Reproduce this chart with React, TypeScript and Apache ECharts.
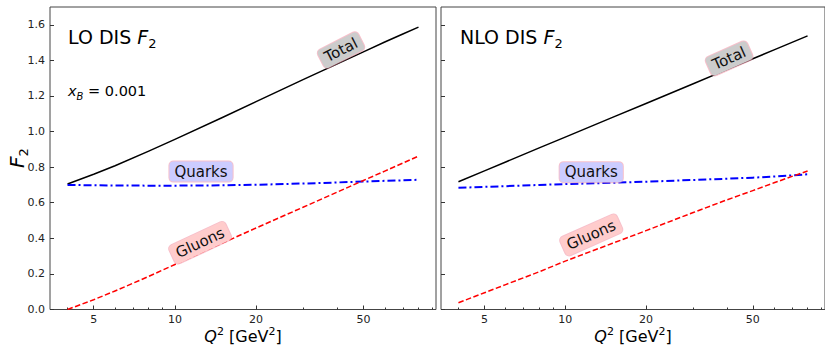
import React, { useEffect, useRef } from "react";
import * as echarts from "echarts";

// Q^2 grid (GeV^2)
const q2 = [4, 5, 6, 8, 10, 15, 20, 30, 40, 50, 60, 70, 80];

// LO DIS F2
const loTotal = [0.705, 0.76, 0.808, 0.89, 0.956, 1.079, 1.168, 1.293, 1.38, 1.448, 1.503, 1.548, 1.587];
const loQuarks = [0.7, 0.698, 0.697, 0.696, 0.696, 0.698, 0.701, 0.708, 0.714, 0.719, 0.723, 0.726, 0.729];
const loGluons = [0.0, 0.055, 0.104, 0.186, 0.253, 0.373, 0.458, 0.576, 0.66, 0.725, 0.778, 0.823, 0.862];

// NLO DIS F2
const nloTotal = [0.718, 0.779, 0.829, 0.908, 0.969, 1.08, 1.158, 1.269, 1.348, 1.409, 1.459, 1.501, 1.538];
const nloQuarks = [0.684, 0.689, 0.693, 0.7, 0.705, 0.712, 0.718, 0.728, 0.735, 0.741, 0.747, 0.754, 0.76];
const nloGluons = [0.038, 0.094, 0.14, 0.212, 0.272, 0.372, 0.443, 0.545, 0.616, 0.668, 0.712, 0.748, 0.778];

// axes
const xMin = 3.444;
const xMax = 92.9;
const yMin = 0;
const yMax = 1.7;
const xMajorTicks = [5, 10, 20, 50];
const xMinorTicks = [4, 6, 7, 8, 9, 30, 40, 60, 70, 80, 90];
const yTicks = [0, 0.2, 0.4, 0.6, 0.8, 1.0, 1.2, 1.4, 1.6];

// inline labels: [panel, text, Q2, F2, angle(deg)]
const lineLabels: [number, string, number, number, number][] = [
  [0, "Total", 41.3, 1.458, 27],
  [0, "Quarks", 12.5, 0.775, 0],
  [0, "Gluons", 12.4, 0.375, 25],
  [1, "Total", 40.8, 1.411, 24],
  [1, "Quarks", 12.5, 0.772, 0],
  [1, "Gluons", 12.5, 0.419, 24],
];

const FONT = "DejaVu Sans";
const labelBg: Record<string, string> = {
  Total: "rgb(204,204,204)",
  Quarks: "rgb(204,204,255)",
  Gluons: "rgb(255,204,204)",
};

const toPairs = (vals: number[]) => q2.map((q, i) => [q, vals[i]]);

export default function App() {
  const ref = useRef<HTMLDivElement>(null);
  useEffect(() => {
    if (!ref.current) return;
    const chart = echarts.init(ref.current, null, { renderer: "svg" });
    const grids = [
      { left: 50, top: 7, width: 386, height: 302.5 },
      { left: 441, top: 7, width: 385, height: 302.5 },
    ];
    const xAxes: any[] = [];
    const yAxes: any[] = [];
    grids.forEach((_, g) => {
      xAxes.push({
        gridIndex: g,
        type: "log",
        logBase: 10,
        min: xMin,
        max: xMax,
        show: false,
      });
      xAxes.push({
        gridIndex: g,
        type: "value",
        position: "bottom",
        min: Math.log10(xMin),
        max: Math.log10(xMax),
        axisLine: { show: false },
        splitLine: { show: false },
        axisTick: {
          show: true,
          inside: true,
          length: 4,
          customValues: xMajorTicks.map((v) => Math.log10(v)),
          lineStyle: { color: "#333", width: 1 },
        },
        axisLabel: {
          show: true,
          customValues: xMajorTicks.map((v) => Math.log10(v)),
          formatter: (v: number) => String(Math.round(Math.pow(10, v))),
          fontFamily: FONT,
          fontSize: 11,
          color: "#222",
          margin: 4,
        },
      });
      xAxes.push({
        gridIndex: g,
        type: "value",
        position: "bottom",
        min: Math.log10(xMin),
        max: Math.log10(xMax),
        axisLine: { show: false },
        splitLine: { show: false },
        axisLabel: { show: false },
        axisTick: {
          show: true,
          inside: true,
          length: 2,
          customValues: xMinorTicks.map((v) => Math.log10(v)),
          lineStyle: { color: "#333", width: 1 },
        },
      });
      yAxes.push({
        gridIndex: g,
        type: "value",
        min: yMin,
        max: yMax,
        axisLine: { show: false },
        splitLine: { show: false },
        axisTick: {
          show: true,
          inside: true,
          length: 4,
          customValues: yTicks,
          lineStyle: { color: "#333", width: 1 },
        },
        axisLabel: {
          show: g === 0,
          customValues: yTicks,
          formatter: (v: number) => v.toFixed(1),
          fontFamily: FONT,
          fontSize: 11,
          color: "#222",
          margin: 5,
        },
      });
    });

    const mk = (g: number, vals: number[], color: string, type: any, width: number) => ({
      type: "line",
      xAxisIndex: g * 3,
      yAxisIndex: g,
      data: toPairs(vals),
      showSymbol: false,
      symbol: "none",
      lineStyle: { color, type, width, join: "round" },
      z: 3,
    });

    const dashDot = [8, 3, 2, 3];
    const dashed = [5.5, 2.5];

    chart.setOption({
      animation: false,
      grid: grids.map((g) => ({ ...g, show: true, borderColor: "#444", borderWidth: 1, backgroundColor: "transparent" })),
      xAxis: xAxes,
      yAxis: yAxes,
      series: [
        mk(0, loTotal, "#000", "solid", 1.5),
        mk(0, loQuarks, "#0000ff", dashDot, 2),
        mk(0, loGluons, "#ff0000", dashed, 1.5),
        mk(1, nloTotal, "#000", "solid", 1.5),
        mk(1, nloQuarks, "#0000ff", dashDot, 2),
        mk(1, nloGluons, "#ff0000", dashed, 1.5),
      ],
    });

    const graphics: any[] = [];
    lineLabels.forEach(([g, text, q, f, ang]) => {
      const p = chart.convertToPixel({ xAxisIndex: g * 3, yAxisIndex: g } as any, [q, f]) as number[];
      if (!p) return;
      graphics.push({
        type: "text",
        x: p[0],
        y: p[1],
        rotation: (ang * Math.PI) / 180,
        z: 10,
        style: {
          text,
          fontFamily: FONT,
          fontSize: 15,
          fill: "#111",
          align: "center",
          verticalAlign: "middle",
          backgroundColor: labelBg[text],
          borderColor: "rgba(240,140,160,0.55)",
          borderWidth: 1,
          borderRadius: 4,
          padding: [3, 5, 2, 5],
        },
      });
    });

    const titleRich = {
      n: { fontFamily: FONT, fontSize: 19, fill: "#000", lineHeight: 26 },
      i: { fontFamily: FONT, fontSize: 19, fontStyle: "italic", fill: "#000", lineHeight: 26 },
      s: { fontFamily: FONT, fontSize: 13, fill: "#000", verticalAlign: "bottom", lineHeight: 15 },
    };
    graphics.push({
      type: "text",
      x: 68,
      y: 37,
      z: 10,
      style: { text: "{n|LO DIS }{i|F}{s|2}", rich: titleRich, verticalAlign: "middle" },
    });
    graphics.push({
      type: "text",
      x: 460,
      y: 37,
      z: 10,
      style: { text: "{n|NLO DIS }{i|F}{s|2}", rich: titleRich, verticalAlign: "middle" },
    });
    graphics.push({
      type: "text",
      x: 68,
      y: 91,
      z: 10,
      style: {
        text: "{i|x}{s|B}{n| = 0.001}",
        verticalAlign: "middle",
        rich: {
          n: { fontFamily: FONT, fontSize: 14.5, fill: "#000", lineHeight: 20 },
          i: { fontFamily: FONT, fontSize: 14.5, fontStyle: "italic", fill: "#000", lineHeight: 20 },
          s: { fontFamily: FONT, fontSize: 10, fontStyle: "italic", fill: "#000", verticalAlign: "bottom", lineHeight: 11 },
        },
      },
    });
    const xNameRich = {
      i: { fontFamily: FONT, fontSize: 16, fontStyle: "italic", fill: "#000", lineHeight: 20 },
      n: { fontFamily: FONT, fontSize: 16, fill: "#000", lineHeight: 20 },
      p: { fontFamily: FONT, fontSize: 11, fill: "#000", verticalAlign: "top", lineHeight: 12 },
    };
    [243, 633].forEach((cx) => {
      graphics.push({
        type: "text",
        x: cx,
        y: 336,
        z: 10,
        style: { text: "{i|Q}{p|2}{n| [GeV}{p|2}{n|]}", rich: xNameRich, align: "center", verticalAlign: "middle" },
      });
    });
    graphics.push({
      type: "text",
      x: 17,
      y: 158,
      z: 10,
      rotation: Math.PI / 2,
      style: {
        text: "{i|F}{s|2}",
        align: "center",
        verticalAlign: "middle",
        rich: {
          i: { fontFamily: FONT, fontSize: 20, fontStyle: "italic", fill: "#000", lineHeight: 26 },
          s: { fontFamily: FONT, fontSize: 13, fill: "#000", verticalAlign: "bottom", lineHeight: 15 },
        },
      },
    });

    chart.setOption({ graphic: graphics });

    return () => chart.dispose();
  }, []);
  return (
    <div
      ref={ref}
      style={{ position: "fixed", left: 0, top: 0, width: 825, height: 345, background: "#fff" }}
    />
  );
}
